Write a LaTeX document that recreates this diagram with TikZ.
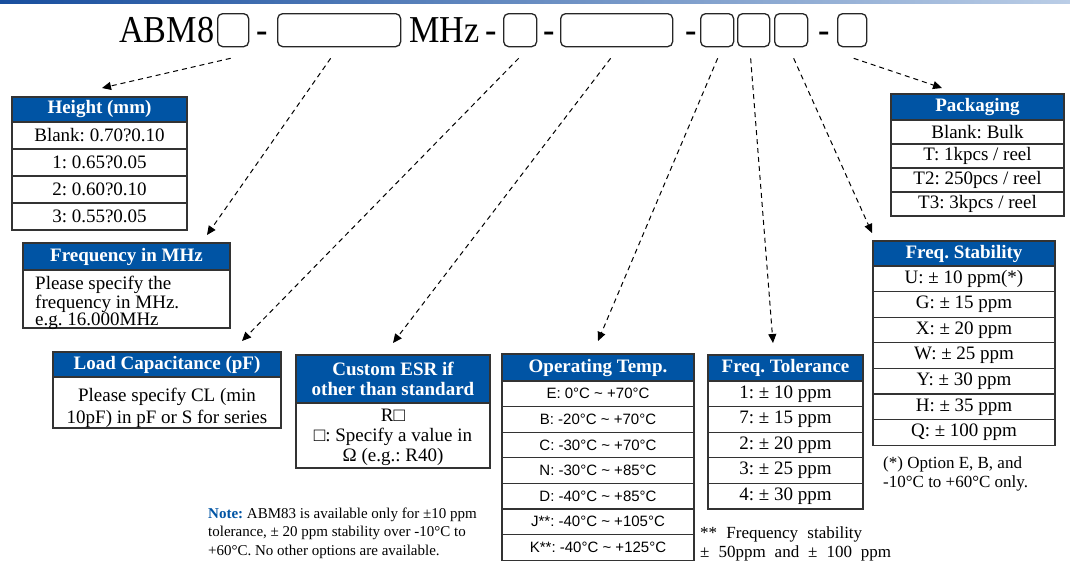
\documentclass[tikz,border=0pt]{standalone}
\usepackage{fontspec}
\setmainfont{Liberation Serif}
\newfontfamily\arialfont{Liberation Sans}
\usepackage{tikz}
\usetikzlibrary{calc, arrows.meta}

\definecolor{abBlue}{RGB}{0,84,164}
\definecolor{barDark}{RGB}{24,78,158}
\definecolor{barLight}{RGB}{186,205,230}

\tikzset{
	head/.style={draw=black!80, line width=1.1pt, fill=abBlue, text=white, font=\bfseries\fontsize{19}{20}\selectfont, inner sep=0pt, outer sep=0pt, anchor=north west, align=center},
	cell/.style={draw=black!80, line width=1.1pt, fill=white, font=\fontsize{19}{20}\selectfont, inner sep=0pt, outer sep=0pt, anchor=north west, align=center},
	bodytext/.style={font=\fontsize{19}{20}\selectfont, inner sep=0pt, anchor=base, align=center},
	slot/.style={draw=black!85, line width=1.3pt, rounded corners=5pt, minimum height=33pt, inner sep=0pt, anchor=north west},
	partno/.style={font=\fontsize{38}{38}\selectfont, inner sep=0pt, anchor=base west},
	foot/.style={font=\fontsize{17}{19}\selectfont, inner sep=0pt, anchor=base west, align=left},
	pointer/.style={dash pattern=on 5pt off 4pt, line width=1pt, -{Triangle[length=9pt,width=8pt]}}
}

\begin{document}
\frenchspacing
\begin{tikzpicture}[x=1pt, y=-1pt]
			\fill[white] (0,0) rectangle (1070,571);
			\useasboundingbox (0,0) rectangle (1070,571);
			\shade[left color=barDark, right color=barLight] (0,0) rectangle (1070,3);

			\newcommand{\drawTable}[7]
			{
				\node[head, minimum width=#3, minimum height=#4] (#1Head) at (#2) {#6};
				\foreach \entry [count=\k] in {#7}
					\node[cell, minimum width=#3, minimum height=#5] (#1Row\k) at ($ (#1Head.south west) + (0,{(\k-1)*#5}) $) {\entry};
			}

			\begin{scope}
				\node[partno] (txtABM) at (119,42) {\scalebox{0.9}[1]{ABM8}};
				\node[slot, minimum width=31] (slotHeight) at (217,13) {};
				\node[partno] (dashA) at (256,42) {\scalebox{0.9}[1]{-}};
				\node[slot, minimum width=123] (slotFreq) at (277,13) {};
				\node[partno] (txtMHz) at (409,42) {\scalebox{0.9}[1]{MHz}};
				\node[partno] (dashB) at (485,42) {\scalebox{0.9}[1]{-}};
				\node[slot, minimum width=33] (slotLoad) at (503,13) {};
				\node[partno] (dashC) at (543,42) {\scalebox{0.9}[1]{-}};
				\node[slot, minimum width=112] (slotESR) at (560,13) {};
				\node[partno] (dashD) at (685,42) {\scalebox{0.9}[1]{-}};
				\node[slot, minimum width=33] (slotTemp) at (700,13) {};
				\node[slot, minimum width=32] (slotTol) at (737,13) {};
				\node[slot, minimum width=33] (slotStab) at (774,13) {};
				\node[partno] (dashE) at (818,42) {\scalebox{0.9}[1]{-}};
				\node[slot, minimum width=29] (slotPack) at (837,13) {};
			\end{scope}

			\drawTable{height}{12,97}{175}{25}{27}{Height (mm)}{Blank: 0.70?0.10, 1: 0.65?0.05, 2: 0.60?0.10, 3: 0.55?0.05}

			\node[head, minimum width=207, minimum height=27] (freqHead) at (23,243) {Frequency in MHz};
			\node[cell, minimum width=207, minimum height=58] (freqBody) at (freqHead.south west) {};
			\node[bodytext, anchor=base west, align=left, font=\fontsize{19}{17}\selectfont] (freqText) at (35,325) {Please specify the\\frequency in MHz.\\e.g. 16.000MHz};

			\node[head, minimum width=228, minimum height=25] (loadHead) at (53,352) {Load Capacitance (pF)};
			\node[cell, minimum width=228, minimum height=51] (loadBody) at (loadHead.south west) {};
			\node[bodytext, font=\fontsize{19}{22}\selectfont] (loadText) at (167,423) {Please specify CL (min\\10pF) in pF or S for series};

			\node[head, minimum width=194, minimum height=48] (esrHead) at (296,355) {Custom ESR if\\other than standard};
			\node[cell, minimum width=194, minimum height=65] (esrBody) at (esrHead.south west) {};
			\node[bodytext] (esrText) at (393,461) {R□\\□: Specify a value in\\Ω (e.g.: R40)};

			\begin{scope}[cell/.append style={font=\arialfont\fontsize{15}{16}\selectfont}]
				\drawTable{temp}{502,354}{192}{27}{25.6}{Operating Temp.}{E: 0°C \textasciitilde{} +70°C, B: -20°C \textasciitilde{} +70°C, C: -30°C \textasciitilde{} +70°C, N: -30°C \textasciitilde{} +85°C, D: -40°C \textasciitilde{} +85°C, J**: -40°C \textasciitilde{} +105°C, K**: -40°C \textasciitilde{} +125°C}
			\end{scope}

			\drawTable{tol}{708,355}{155}{26}{25.6}{Freq. Tolerance}{1: ± 10 ppm, 7: ± 15 ppm, 2: ± 20 ppm, 3: ± 25 ppm, 4: ± 30 ppm}
			\drawTable{stab}{873,241}{182}{25}{25.6}{Freq. Stability}{U: ± 10 ppm(*), G: ± 15 ppm, X: ± 20 ppm, W: ± 25 ppm, Y: ± 30 ppm, H: ± 35 ppm, Q: ± 100 ppm}
			\drawTable{pack}{891,94}{173}{26}{24}{Packaging}{Blank: Bulk, T: 1kpcs / reel, T2: 250pcs / reel, T3: 3kpcs / reel}

			\begin{scope}[pointer]
				\draw ([shift={(-2.5,11)}]slotHeight.south) -- ([shift={(2.5,-9)}]heightHead.north);
				\draw ([shift={(-8.5,11)}]slotFreq.south) -- ([shift={(-23,-8)}]freqHead.north east);
				\draw ([shift={(-1.5,11)}]slotLoad.south) -- ([shift={(-39,-11)}]loadHead.north east);
				\draw ([shift={(-6,11)}]slotESR.south) -- ([shift={(0,-12)}]esrHead.north);
				\draw ([shift={(0.5,11)}]slotTemp.south) -- ([shift={(0,-13)}]tempHead.north);
				\draw ([shift={(-3,11)}]slotTol.south) -- ([shift={(-12.5,-12)}]tolHead.north);
				\draw ([shift={(2.5,11)}]slotStab.south) -- ([shift={(-1,-8)}]stabHead.north west);
				\draw ([shift={(1.5,11)}]slotPack.south) -- ([shift={(51,-6)}]packHead.north west);
			\end{scope}

			\node[foot, font=\fontsize{15}{18.5}\selectfont] (noteText) at (208,555) {\textcolor{abBlue}{\textbf{Note:}} ABM83 is available only for ±10 ppm\\tolerance, ± 20 ppm stability over -10°C to\\+60°C. No other options are available.};
			\node[foot] (tolNote) at (700,557) {\makebox[162pt][s]{** Frequency stability}\\\makebox[191pt][s]{± 50ppm and ± 100 ppm}};
			\node[foot] (stabNote) at (883,487) {(*) Option E, B, and\\-10°C to +60°C only.};
		\end{tikzpicture}
\end{document}
